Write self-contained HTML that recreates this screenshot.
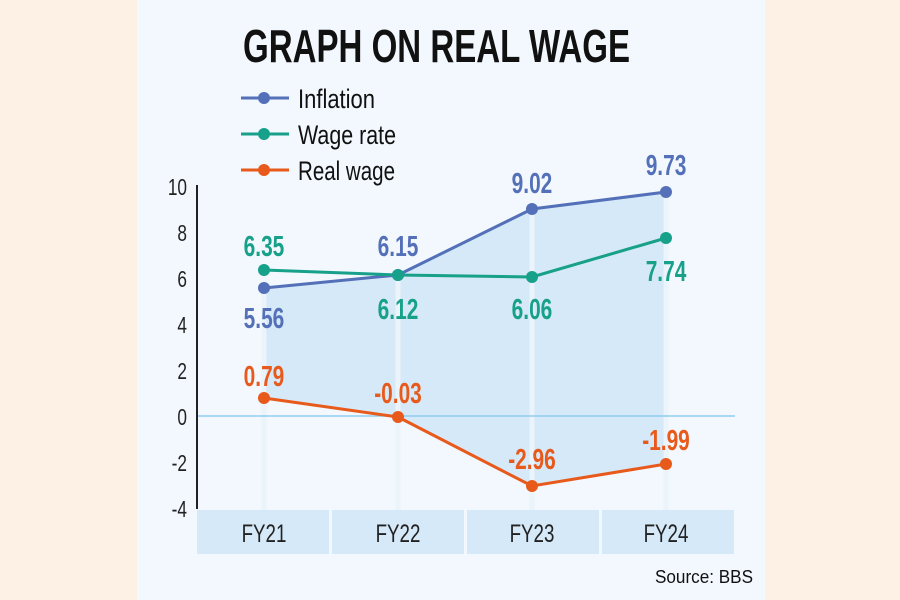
<!DOCTYPE html>
<html><head><meta charset="utf-8"><style>
html,body{margin:0;padding:0;background:#fdf1e6;}
svg{display:block}
text{font-family:"Liberation Sans",sans-serif;}
</style></head><body>
<svg width="900" height="600" viewBox="0 0 900 600">
<rect x="0" y="0" width="900" height="600" fill="#fdf1e6"/>
<rect x="137" y="0" width="628" height="600" fill="#f2f8fd"/>
<polygon points="264,288 398,275 532,209 666,192 666,464 532,486 398,417 264,398" fill="#d5e9f8"/>
<g stroke="#ebf4fb" stroke-width="5">
<line x1="264" y1="288" x2="264" y2="510"/><line x1="398" y1="275" x2="398" y2="510"/>
<line x1="532" y1="209" x2="532" y2="510"/><line x1="666" y1="192" x2="666" y2="510"/>
</g>
<line x1="197" y1="416" x2="735" y2="416" stroke="#8fcdf0" stroke-width="1.5"/>
<line x1="197" y1="185" x2="197" y2="509" stroke="#222" stroke-width="2"/>
<g fill="#d5e9f8">
<rect x="197" y="510" width="132" height="44"/><rect x="332" y="510" width="132" height="44"/>
<rect x="467" y="510" width="132" height="44"/><rect x="602" y="510" width="132" height="44"/>
</g>
<g font-size="25" fill="#222" text-anchor="middle">
<text x="264" y="542" transform="translate(264 0) scale(0.75 1) translate(-264 0)">FY21</text>
<text x="398" y="542" transform="translate(398 0) scale(0.75 1) translate(-398 0)">FY22</text>
<text x="532" y="542" transform="translate(532 0) scale(0.75 1) translate(-532 0)">FY23</text>
<text x="666" y="542" transform="translate(666 0) scale(0.75 1) translate(-666 0)">FY24</text>
</g>
<g font-size="23" fill="#222" text-anchor="end">
<text x="187" y="195" transform="translate(187 0) scale(0.75 1) translate(-187 0)">10</text>
<text x="187" y="241" transform="translate(187 0) scale(0.75 1) translate(-187 0)">8</text>
<text x="187" y="287" transform="translate(187 0) scale(0.75 1) translate(-187 0)">6</text>
<text x="187" y="333" transform="translate(187 0) scale(0.75 1) translate(-187 0)">4</text>
<text x="187" y="379" transform="translate(187 0) scale(0.75 1) translate(-187 0)">2</text>
<text x="187" y="425" transform="translate(187 0) scale(0.75 1) translate(-187 0)">0</text>
<text x="187" y="471" transform="translate(187 0) scale(0.75 1) translate(-187 0)">-2</text>
<text x="187" y="517" transform="translate(187 0) scale(0.75 1) translate(-187 0)">-4</text>
</g>
<polyline points="264,288 398,275 532,209 666,192" fill="none" stroke="#5470b8" stroke-width="3"/>
<polyline points="264,270 398,275 532,277 666,238" fill="none" stroke="#17a08a" stroke-width="3"/>
<polyline points="264,398 398,417 532,486 666,464" fill="none" stroke="#e85a1c" stroke-width="3"/>
<g fill="#5470b8"><circle cx="264" cy="288" r="6"/><circle cx="398" cy="275" r="6"/><circle cx="532" cy="209" r="6"/><circle cx="666" cy="192" r="6"/></g>
<g fill="#17a08a"><circle cx="264" cy="270" r="6"/><circle cx="398" cy="275" r="6"/><circle cx="532" cy="277" r="6"/><circle cx="666" cy="238" r="6"/></g>
<g fill="#e85a1c"><circle cx="264" cy="398" r="6"/><circle cx="398" cy="417" r="6"/><circle cx="532" cy="486" r="6"/><circle cx="666" cy="464" r="6"/></g>
<g font-size="29" font-weight="bold" text-anchor="middle">
<g fill="#5470b8">
<text x="264" y="328" transform="translate(264 0) scale(0.72 1) translate(-264 0)">5.56</text>
<text x="398" y="256" transform="translate(398 0) scale(0.72 1) translate(-398 0)">6.15</text>
<text x="532" y="193" transform="translate(532 0) scale(0.72 1) translate(-532 0)">9.02</text>
<text x="666" y="175" transform="translate(666 0) scale(0.72 1) translate(-666 0)">9.73</text>
</g>
<g fill="#17a08a">
<text x="264" y="256" transform="translate(264 0) scale(0.72 1) translate(-264 0)">6.35</text>
<text x="398" y="319" transform="translate(398 0) scale(0.72 1) translate(-398 0)">6.12</text>
<text x="532" y="319" transform="translate(532 0) scale(0.72 1) translate(-532 0)">6.06</text>
<text x="666" y="281" transform="translate(666 0) scale(0.72 1) translate(-666 0)">7.74</text>
</g>
<g fill="#e85a1c">
<text x="264" y="386" transform="translate(264 0) scale(0.72 1) translate(-264 0)">0.79</text>
<text x="398" y="403" transform="translate(398 0) scale(0.72 1) translate(-398 0)">-0.03</text>
<text x="532" y="469" transform="translate(532 0) scale(0.72 1) translate(-532 0)">-2.96</text>
<text x="666" y="450" transform="translate(666 0) scale(0.72 1) translate(-666 0)">-1.99</text>
</g>
</g>
<text x="243" y="62" font-size="46" font-weight="bold" fill="#111" textLength="387" lengthAdjust="spacingAndGlyphs">GRAPH ON REAL WAGE</text>
<g stroke-width="3">
<line x1="241" y1="98" x2="289" y2="98" stroke="#5470b8"/><circle cx="264" cy="98" r="6" fill="#5470b8"/>
<line x1="241" y1="134" x2="289" y2="134" stroke="#17a08a"/><circle cx="264" cy="134" r="6" fill="#17a08a"/>
<line x1="241" y1="170" x2="289" y2="170" stroke="#e85a1c"/><circle cx="264" cy="170" r="6" fill="#e85a1c"/>
</g>
<g font-size="27" fill="#111">
<text x="298" y="108" textLength="77" lengthAdjust="spacingAndGlyphs">Inflation</text>
<text x="298" y="144" textLength="98" lengthAdjust="spacingAndGlyphs">Wage rate</text>
<text x="298" y="180" textLength="97" lengthAdjust="spacingAndGlyphs">Real wage</text>
</g>
<text x="753" y="583" font-size="18" fill="#111" text-anchor="end" textLength="98" lengthAdjust="spacingAndGlyphs">Source: BBS</text>
</svg>
</body></html>
